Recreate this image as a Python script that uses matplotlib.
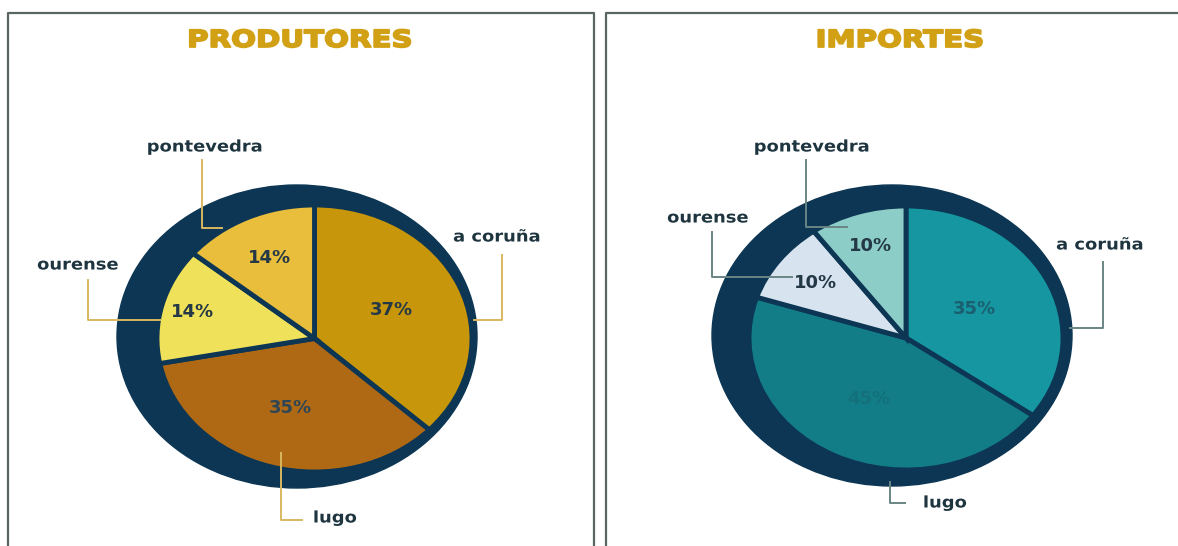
import numpy as np
import matplotlib
matplotlib.use("Agg")
import matplotlib.pyplot as plt
from matplotlib.patches import Ellipse
from matplotlib.transforms import Affine2D
from matplotlib import patheffects

# ---- data -------------------------------------------------------------
provinces = ["a coruña", "lugo", "ourense", "pontevedra"]
produtores = [37, 35, 14, 14]
importes = [35, 45, 10, 10]

W, H = 1178, 546
NAVY = "#0C3653"


class Stretch(patheffects.AbstractPathEffect):
    """Widen glyphs horizontally around the string centre (optional outline)."""

    def __init__(self, sx, stroke=0.0):
        super().__init__()
        self.sx = sx
        self.stroke = stroke

    def draw_path(self, renderer, gc, tpath, affine, rgbFace=None):
        ext = tpath.get_extents()
        cx = (ext.x0 + ext.x1) / 2
        aff = Affine2D().translate(-cx, 0).scale(self.sx, 1).translate(cx, 0) + affine
        if self.stroke:
            gc0 = renderer.new_gc()
            gc0.copy_properties(gc)
            gc0.set_linewidth(self.stroke)
            gc0.set_foreground(rgbFace)
            gc0.set_joinstyle("round")
            renderer.draw_path(gc0, tpath, aff, rgbFace)
            gc0.restore()
        else:
            renderer.draw_path(gc, tpath, aff, rgbFace)


fig = plt.figure(figsize=(W / 100, H / 100), dpi=100)
fig.patch.set_facecolor("white")

base = fig.add_axes([0, 0, 1, 1])
base.set_xlim(0, W)
base.set_ylim(H, 0)
base.axis("off")

# panel frames
base.plot([8, 8, 594, 594], [H + 5, 13, 13, H + 5], color="#5a6664", lw=1.6)
base.plot([606, 606, W + 5], [H + 5, 13, 13], color="#5a6664", lw=1.6)

title_kw = dict(ha="center", va="center", fontsize=17, fontweight="bold",
                color="#D2A014", path_effects=[Stretch(1.24, stroke=1.3)])
base.text(300, 40, "PRODUTORES", **title_kw)
base.text(900, 40, "IMPORTES", **title_kw)


def draw_pie(values, colors, pct_colors, pct_dist, cx, cy, rx, ry, shadow):
    ax = fig.add_axes([0, 0, 1, 1])
    ax.patch.set_alpha(0)
    sx, sy, srx, sry = shadow
    ax.add_patch(Ellipse(((sx - cx) / rx, (cy - sy) / ry), 2 * srx / rx,
                         2 * sry / ry, color=NAVY, zorder=0))
    wedges, _, autotexts = ax.pie(
        values, colors=colors, startangle=90, counterclock=False,
        autopct="%d%%", pctdistance=0.6,
        wedgeprops=dict(edgecolor=NAVY, linewidth=3.5),
        textprops=dict(fontsize=13, fontweight="bold"))
    for w, t, d, c in zip(wedges, autotexts, pct_dist, pct_colors):
        a = np.deg2rad((w.theta1 + w.theta2) / 2)
        t.set_position((d * np.cos(a), d * np.sin(a)))
        t.set_color(c)
        t.set_ha("center")
        t.set_va("center")
    ax.set_aspect("auto")
    ax.set_xlim(-cx / rx, (W - cx) / rx)
    ax.set_ylim((cy - H) / ry, cy / ry)
    ax.axis("off")
    return ax


draw_pie(produtores, ["#C8960A", "#AF6914", "#F0E15A", "#E8BE3C"],
         ["#243845", "#2E4655", "#243845", "#243845"],
         [0.53, 0.54, 0.8, 0.67],
         314.5, 338.5, 157.5, 133.5, (297, 336.5, 180, 151.5))
draw_pie(importes, ["#1696A0", "#127D87", "#D7E4F0", "#8CCDC8"],
         ["#1A5F70", "#14707A", "#243845", "#243845"],
         [0.49, 0.52, 0.71, 0.73],
         906, 338, 157, 132, (892, 335.5, 180, 150.5))

# labels and leader lines on top
top = fig.add_axes([0, 0, 1, 1])
top.patch.set_alpha(0)
top.set_xlim(0, W)
top.set_ylim(H, 0)
top.axis("off")

lab_kw = dict(ha="center", va="center", fontsize=11.5, fontweight="bold",
              color="#1E3540", path_effects=[Stretch(1.12)])

left_labels = {"a coruña": (497, 237), "lugo": (335, 518),
               "ourense": (78, 265), "pontevedra": (205, 147)}
left_leaders = {"a coruña": [(502, 255), (502, 320), (474, 320)],
                "lugo": [(281, 453), (281, 520), (302, 520)],
                "ourense": [(88, 280), (88, 320), (160, 320)],
                "pontevedra": [(202, 160), (202, 228), (222, 228)]}
right_labels = {"a coruña": (1100, 245), "lugo": (945, 503),
                "ourense": (708, 218), "pontevedra": (812, 147)}
right_leaders = {"a coruña": [(1103, 262), (1103, 328), (1070, 328)],
                 "lugo": [(890, 482), (890, 503), (905, 503)],
                 "ourense": [(712, 232), (712, 277), (792, 277)],
                 "pontevedra": [(806, 160), (806, 227), (847, 227)]}

for labels, leaders, lc in [(left_labels, left_leaders, "#D8B860"),
                            (right_labels, right_leaders, "#6A8585")]:
    for name in provinces:
        pts = np.array(leaders[name])
        top.plot(pts[:, 0], pts[:, 1], color=lc, lw=1.4)
        top.text(*labels[name], name, **lab_kw)

fig.savefig("out.png", dpi=100)
